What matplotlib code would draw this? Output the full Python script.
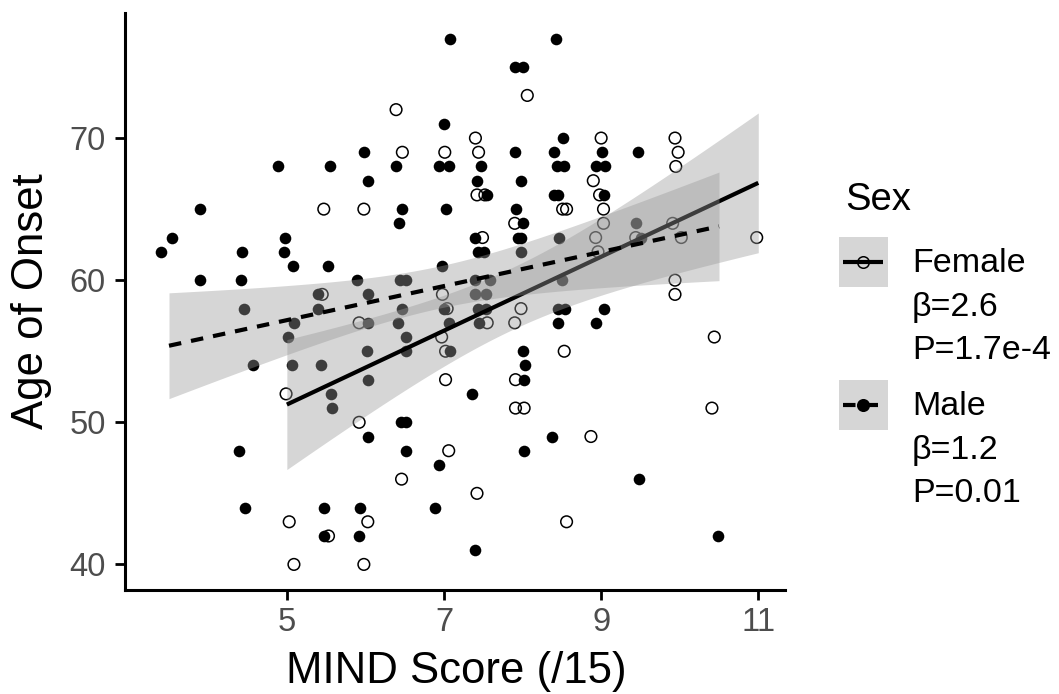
import matplotlib.pyplot as plt
import numpy as np
from matplotlib.patches import Rectangle

plt.rcParams["font.family"] = ["Liberation Sans", "DejaVu Sans"]

# MIND score (points are drawn jittered) and age of onset
female_x = np.array([
    5.47, 5.98, 6.39, 8.06,
    7.40, 9.00, 9.94,
    6.47, 7.01, 7.44, 9.98,
    9.95,
    8.90,
    7.42, 7.52, 8.98,
    8.51, 8.56, 9.03,
    7.90, 9.03, 9.91,
    7.49, 8.93, 9.44, 10.02, 10.98,
    8.96,
    9.94,
    5.45, 6.98, 9.94,
    7.04, 7.98,
    5.92, 7.55, 7.90,
    6.97, 10.44,
    7.02, 8.53,
    7.02, 7.91,
    4.99,
    7.91, 8.02, 10.41,
    5.92,
    8.87,
    7.06,
    6.46,
    7.42,
    5.03, 6.03, 8.56,
    5.53,
    5.09, 5.98,
])
female_y = np.array([
    65, 65, 72, 73,
    70, 70, 70,
    69, 69, 69, 69,
    68,
    67,
    66, 66, 66,
    65, 65, 65,
    64, 64, 64,
    63, 63, 63, 63, 63,
    62,
    60,
    59, 59, 59,
    58, 58,
    57, 57, 57,
    56, 56,
    55, 55,
    53, 53,
    52,
    51, 51, 51,
    50,
    49,
    48,
    46,
    45,
    43, 43, 43,
    42,
    40, 40,
])

male_x = np.array([
    7.07, 8.42,
    7.90, 8.01,
    7.00,
    8.51,
    5.98, 7.90, 8.40, 9.01, 9.47,
    4.89, 5.55, 6.39, 6.94, 7.06, 7.47, 8.44, 8.53, 8.93, 9.05,
    6.03, 7.42, 7.98,
    7.55, 8.40, 8.45, 9.04,
    3.89, 6.46, 7.02, 7.91,
    6.43, 8.01, 9.45,
    3.54, 4.97, 7.40, 7.94, 7.98, 8.46, 9.51,
    3.40, 4.43, 4.96, 7.43, 7.51, 7.98,
    5.08, 5.52, 6.98,
    3.89, 4.41, 5.89, 6.44, 6.52, 7.39, 7.58, 8.50,
    5.40, 6.03, 7.39, 7.53,
    4.46, 5.40, 6.47, 7.00, 7.43, 7.53, 8.45, 8.54, 9.04,
    5.09, 6.03, 6.41, 7.06, 7.44, 8.45, 8.93,
    5.01, 6.52,
    6.02, 6.52, 7.08, 8.01,
    4.57, 5.07, 5.44, 8.03,
    6.03, 8.02,
    5.56, 7.35,
    5.58,
    6.45, 6.51,
    6.03, 8.37,
    4.39, 6.51, 8.02,
    6.94,
    9.48,
    4.47, 5.47, 5.93, 6.89,
    5.47, 5.92, 10.49,
    7.40,
])
male_y = np.array([
    77, 77,
    75, 75,
    71,
    70,
    69, 69, 69, 69, 69,
    68, 68, 68, 68, 68, 68, 68, 68, 68, 68,
    67, 67, 67,
    66, 66, 66, 66,
    65, 65, 65, 65,
    64, 64, 64,
    63, 63, 63, 63, 63, 63, 63,
    62, 62, 62, 62, 62, 62,
    61, 61, 61,
    60, 60, 60, 60, 60, 60, 60, 60,
    59, 59, 59, 59,
    58, 58, 58, 58, 58, 58, 58, 58, 58,
    57, 57, 57, 57, 57, 57, 57,
    56, 56,
    55, 55, 55, 55,
    54, 54, 54, 54,
    53, 53,
    52, 52,
    51,
    50, 50,
    49, 49,
    48, 48, 48,
    47,
    46,
    44, 44, 44, 44,
    42, 42, 42,
    41,
])

# slopes reported in the legend
female_beta = 2.6
male_beta = 1.2

legend_title = "Sex"
legend_labels = [["Female", "β=2.6", "P=1.7e-4"], ["Male", "β=1.2", "P=0.01"]]
x_ticks = [5, 7, 9, 11]
y_ticks = [40, 50, 60, 70]

RIBBON = "#999999"


def t_975(dof):
    # expansion of the t quantile, fine for dof > 20
    z = 1.959964
    return z + (z**3 + z) / (4 * dof) + (5 * z**5 + 16 * z**3 + 3 * z) / (96 * dof**2)


def lm_band(x_jit, y, beta, n_grid=80):
    score = np.round(x_jit * 2) / 2  # undo the jitter: scores come in steps of 0.5
    x_mean, y_mean = score.mean(), y.mean()
    b0 = y_mean - beta * x_mean
    grid = np.linspace(score.min(), score.max(), n_grid)
    fit = b0 + beta * grid
    resid = y - (b0 + beta * score)
    dof = score.size - 2
    s = np.sqrt(np.sum(resid**2) / dof)
    sxx = np.sum((score - x_mean) ** 2)
    se = s * np.sqrt(1 / score.size + (grid - x_mean) ** 2 / sxx)
    half = t_975(dof) * se
    return grid, fit, fit - half, fit + half


fig = plt.figure(figsize=(10.59, 6.94), dpi=100)
ax = fig.add_axes([125 / 1059, 1 - 590 / 694, 660 / 1059, 577 / 694])

ax.scatter(female_x, female_y, s=70, facecolors="none", edgecolors="black",
           linewidths=1.1, zorder=1)
ax.scatter(male_x, male_y, s=70, color="black", linewidths=0, zorder=1)

fx, fy, flo, fhi = lm_band(female_x, female_y, female_beta)
mx, my, mlo, mhi = lm_band(male_x, male_y, male_beta)

ax.fill_between(fx, flo, fhi, color=RIBBON, alpha=0.4, linewidth=0, zorder=2)
ax.plot(fx, fy, color="black", lw=3.0, solid_capstyle="butt", zorder=3)
ax.fill_between(mx, mlo, mhi, color=RIBBON, alpha=0.4, linewidth=0, zorder=4)
ax.plot(mx, my, color="black", lw=3.0, linestyle=(0, (3.0, 2.4)),
        dash_capstyle="butt", zorder=5)

ax.set_xlim(2.94, 11.34)
ax.set_ylim(38.2, 78.8)
ax.set_xticks(x_ticks)
ax.set_yticks(y_ticks)
ax.set_xticklabels([str(t) for t in x_ticks])
ax.set_yticklabels([str(t) for t in y_ticks])

for side in ["top", "right"]:
    ax.spines[side].set_visible(False)
for side in ["left", "bottom"]:
    ax.spines[side].set_linewidth(2.2)
    ax.spines[side].set_color("black")
ax.tick_params(axis="both", length=7, width=2.0, color="black",
               labelcolor="#4D4D4D", labelsize=23.5)
ax.tick_params(axis="y", pad=7)
ax.tick_params(axis="x", pad=5)

fig.text(456 / 1059, 1 - 683 / 694, "MIND Score (/15)", fontsize=31.5,
         ha="center", va="baseline")
fig.text(32 / 1059, 1 - 301.5 / 694, "Age of Onset", fontsize=31.5,
         rotation=90, ha="center", va="center")

# legend, drawn in pixel coordinates
lax = fig.add_axes([0, 0, 1, 1], facecolor="none")
lax.set_xlim(0, 1059)
lax.set_ylim(694, 0)
lax.axis("off")

lax.text(845, 210, legend_title, fontsize=27.5, ha="left", va="baseline")

key_tops = [237, 380]
line_styles = ["-", (0, (3.0, 2.4))]
marker_faces = ["none", "black"]
for top, style, face, lines in zip(key_tops, line_styles, marker_faces, legend_labels):
    lax.add_patch(Rectangle((839, top), 49, 50, facecolor=RIBBON, alpha=0.4,
                            edgecolor="none"))
    cy = top + 25
    lax.plot([843, 883], [cy, cy], color="black", lw=3.0, linestyle=style,
             dash_capstyle="butt", solid_capstyle="butt")
    lax.plot([863], [cy], marker="o", markersize=8.3, markerfacecolor=face,
             markeredgecolor="black", markeredgewidth=1.1, linestyle="none")
    for i, line in enumerate(lines):
        lax.text(912, top + 35 + i * 43.5, line, fontsize=24.5, ha="left",
                 va="baseline")

fig.savefig("out.png", dpi=100)
